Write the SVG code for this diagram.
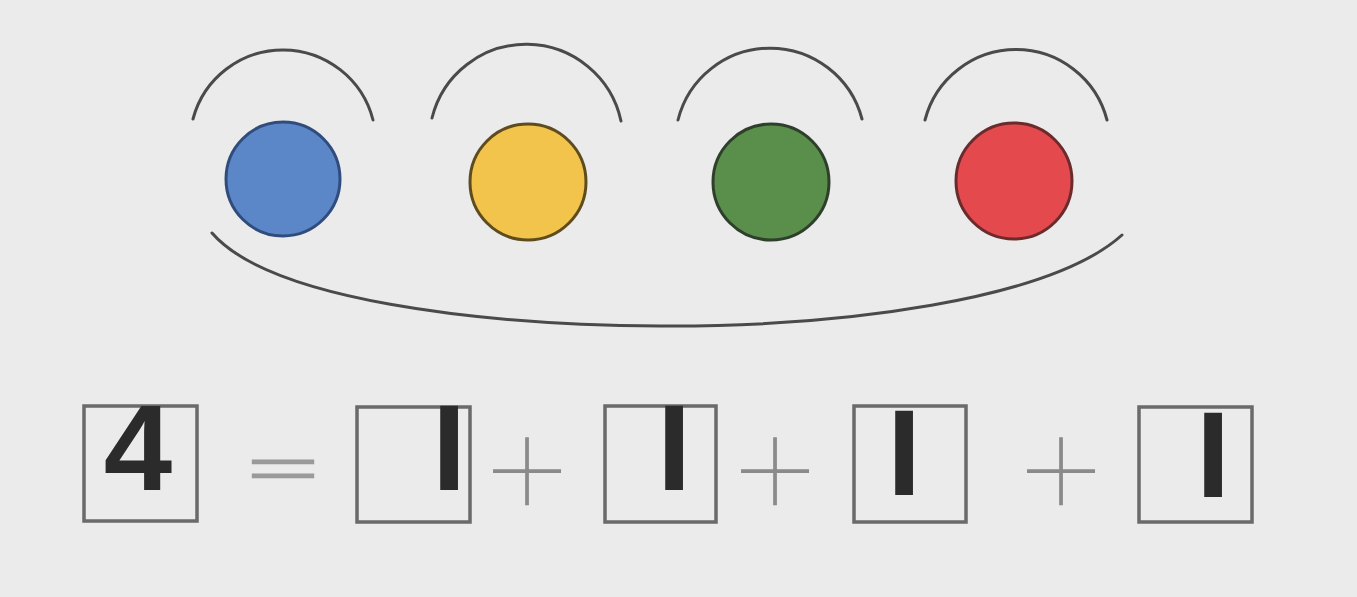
<svg xmlns="http://www.w3.org/2000/svg" width="1357" height="597" viewBox="0 0 1357 597">
<style>
.arc{fill:none;stroke:#4a4a4a;stroke-width:3;stroke-linecap:round}
.dot{stroke-width:3}
.box{fill:none;stroke:#6a6a6a;stroke-width:3.5}
.big{font-family:"Liberation Sans",Arial,sans-serif;font-weight:bold;font-size:123px;fill:#2b2b2b}
.op{font-family:Inter,"Liberation Sans",sans-serif;font-weight:100;font-size:165px;fill:#8a8a8a}
.eqs{font-family:Inter,"Liberation Sans",sans-serif;font-weight:100;font-size:75px;fill:#9a9a9a;stroke:#9a9a9a;stroke-width:3}
</style>
<rect x="0" y="0" width="1357" height="597" fill="#ebebeb"/>
<g id="connectors">
<path class="arc" d="M193,119 A93,93 0 0 1 373,120"/>
<path class="arc" d="M432,118 A97,97 0 0 1 621,121"/>
<path class="arc" d="M678,120 A95,95 0 0 1 862,119"/>
<path class="arc" d="M925,120 A94,94 0 0 1 1107,120"/>
<path class="arc" d="M212,233 C270,300 480,325 660,326 C840,327 1050,300 1122,235"/>
</g>
<g id="blue"><circle class="dot" cx="283" cy="179" r="57" fill="#5b87c9" stroke="#2f4c7c"/></g>
<g id="yellow"><circle class="dot" cx="528" cy="182" r="58" fill="#f3c44b" stroke="#5e4c1f"/></g>
<g id="green"><circle class="dot" cx="771" cy="182" r="58" fill="#5a8e4b" stroke="#2e3f2b"/></g>
<g id="red"><circle class="dot" cx="1014" cy="181" r="58" fill="#e44a4d" stroke="#6b2b2c"/></g>
<g id="box4"><rect class="box" x="84" y="406" width="113" height="115"/><text class="big" x="138" y="490" text-anchor="middle">4</text></g>
<g id="eq"><text class="eqs" transform="translate(283,490) scale(2.2,1)" x="0" y="0" text-anchor="middle">=</text></g>
<g id="box1"><rect class="box" x="357" y="407" width="113" height="115"/><text class="big" x="449" y="490" text-anchor="middle">I</text></g>
<g id="plus1"><text class="op" x="527" y="518" text-anchor="middle">+</text></g>
<g id="box2"><rect class="box" x="605" y="406" width="111" height="116"/><text class="big" x="674" y="490" text-anchor="middle">I</text></g>
<g id="plus2"><text class="op" x="775" y="518" text-anchor="middle">+</text></g>
<g id="box3"><rect class="box" x="854" y="406" width="112" height="116"/><text class="big" x="904" y="495" text-anchor="middle">I</text></g>
<g id="plus3"><text class="op" x="1061" y="518" text-anchor="middle">+</text></g>
<g id="box5"><rect class="box" x="1139" y="407" width="113" height="115"/><text class="big" x="1213" y="497" text-anchor="middle">I</text></g>
</svg>
